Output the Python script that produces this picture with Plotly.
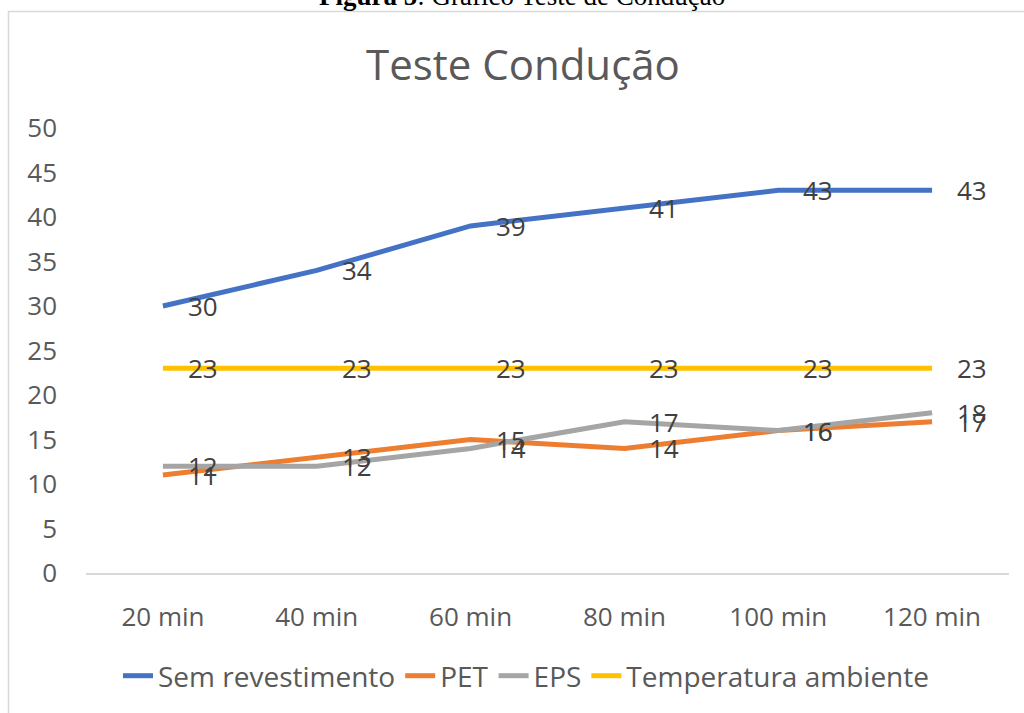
import plotly.graph_objects as go

categories = ["20 min", "40 min", "60 min", "80 min", "100 min", "120 min"]
sem_revestimento = [30, 34, 39, 41, 43, 43]
pet = [11, 13, 15, 14, 16, 17]
eps = [12, 12, 14, 17, 16, 18]
temperatura_ambiente = [23, 23, 23, 23, 23, 23]
y_ticks = [0, 5, 10, 15, 20, 25, 30, 35, 40, 45, 50]

series = [
    ("Sem revestimento", sem_revestimento, "#4472C4"),
    ("PET", pet, "#ED7D31"),
    ("EPS", eps, "#A5A5A5"),
    ("Temperatura ambiente", temperatura_ambiente, "#FFC000"),
]

W, H = 1024, 713
# plot area in page pixels: x 86..1009, y 128..573
L, R, T, B = 86, W - 1009, 128, H - 573
pw, ph = W - L - R, H - T - B

def px_x(p):
    return (p - L) / pw

def px_y(p):
    return (H - B - p) / ph

font_family = "Open Sans, Segoe UI, Calibri, sans-serif"

fig = go.Figure()
annotations = []
for name, vals, col in series:
    fig.add_trace(go.Scatter(
        x=categories, y=vals, name=name, mode="lines",
        line=dict(color=col, width=5),
    ))
    for c, v in zip(categories, vals):
        annotations.append(dict(
            x=c, y=v, xref="x", yref="y", text=str(v), showarrow=False,
            xanchor="center", yanchor="middle", xshift=40,
            font=dict(family=font_family, size=26, color="#404040"),
        ))

annotations.append(dict(
    x=px_x(523), y=px_y(63), xref="paper", yref="paper",
    text="Teste Condução", showarrow=False, xanchor="center", yanchor="middle",
    font=dict(family=font_family, size=42, color="#595959"),
))
annotations.append(dict(
    x=px_x(522), y=px_y(13.5), xref="paper", yref="paper",
    text="<b>Figura 5</b>: Gráfico Teste de Condução", showarrow=False,
    xanchor="center", yanchor="bottom",
    font=dict(family="Liberation Serif, Times New Roman, serif", size=27, color="#000000"),
))

bx0, by0 = px_x(8.5), px_y(11.5)
bx1, by1 = px_x(1100), px_y(760)
border_path = f"M {bx0},{by1} L {bx0},{by0} L {bx1},{by0}"

fig.update_layout(
    width=W, height=H,
    margin=dict(l=L, r=R, t=T, b=B),
    paper_bgcolor="white", plot_bgcolor="white",
    showlegend=True,
    legend=dict(
        orientation="h", x=px_x(526), y=px_y(676), xanchor="center", yanchor="middle",
        font=dict(family=font_family, size=28, color="#595959"),
        itemwidth=30, tracegroupgap=0, bgcolor="rgba(0,0,0,0)",
    ),
    annotations=annotations,
    shapes=[dict(
        type="path", xref="paper", yref="paper", path=border_path,
        line=dict(color="#D9D9D9", width=1.5), layer="below",
    )],
)
fig.update_xaxes(
    type="category", range=[-0.5, 5.5], showgrid=False, zeroline=False,
    showline=True, linecolor="#D9D9D9", linewidth=1.5,
    ticks="", ticklabelstandoff=20,
    tickfont=dict(family=font_family, size=26, color="#595959"),
)
fig.update_yaxes(
    range=[0, 50], tickvals=y_ticks, showgrid=False, zeroline=False, showline=False,
    ticks="", ticklabelstandoff=28,
    tickfont=dict(family=font_family, size=26, color="#595959"),
)

page_style = (
    "document.body.style.margin='0';"
    "document.body.style.overflow='hidden';"
    "document.documentElement.style.overflow='hidden';"
)
fig.write_html("out.html", post_script=page_style, config={"displayModeBar": False})
